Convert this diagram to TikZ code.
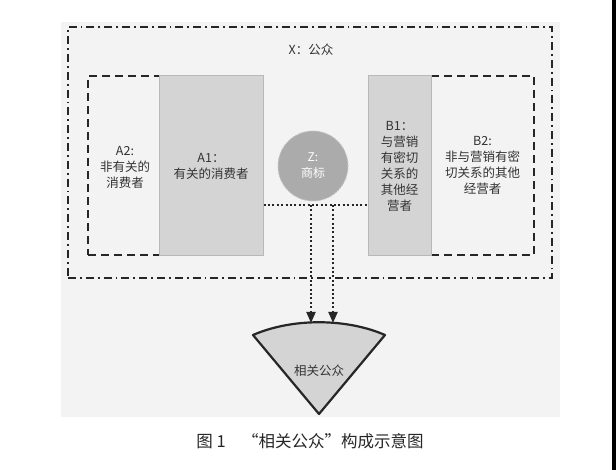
\documentclass[tikz,border=0pt]{standalone}
\usepackage{fontspec}
\setmainfont{Noto Sans CJK SC}
\usetikzlibrary{arrows.meta}
\definecolor{bgpanel}{HTML}{F3F3F4}
\definecolor{boxgray}{HTML}{D4D4D4}
\definecolor{edgegray}{HTML}{B8B8B8}
\definecolor{circgray}{HTML}{ABABAB}
\definecolor{inkdark}{HTML}{262626}
\definecolor{txtgray}{HTML}{333333}
\tikzset{
  dashbox/.style={draw=inkdark,line width=2.2pt,dash pattern=on 8pt off 5pt,minimum width=#1},
  dotdashbox/.style={draw=inkdark,line width=2.2pt,dash pattern=on 8pt off 4pt on 1.8pt off 4pt},
  graybox/.style={draw=edgegray,fill=boxgray,line width=1pt,inner sep=0pt},
  dotline/.style={draw=inkdark,line width=2pt,dash pattern=on 2pt off 2.4pt},
  lbl/.style={align=center,text=txtgray,font=\fontsize{12.5}{16}\selectfont}
}
\begin{document}
\begin{tikzpicture}[x=1pt,y=-1pt,>={Triangle[width=9pt,length=11pt]}]
\useasboundingbox (0,0) rectangle (616,470);
\fill[bgpanel] (61,22) rectangle (560,417);
\fill[black] (612,0) rectangle (616,470);
% outer box X
\node[dotdashbox,minimum width=484pt,minimum height=251pt] (X) at (310,152.5) {};
\node[lbl] (xlab) at (311,50) {X：公众};
% left group A2 / A1
\node[dashbox=175pt,minimum height=179pt] (A2) at (175.5,165.5) {};
\node[graybox,minimum width=104pt,minimum height=180pt,lbl] (A1) at (211,166) {A1：\\有关的消费者};
\node[lbl] (a2lab) at (125,167) {A2:\\非有关的\\消费者};
% right group B1 / B2
\node[dashbox=103pt,minimum height=179pt,lbl] (B2) at (482.5,165.5) {B2:\\非与营销有密\\切关系的其他\\经营者};
\node[graybox,minimum width=63pt,minimum height=180pt,lbl] (B1) at (399.5,166) {B1：\\与营销\\有密切\\关系的\\其他经\\营者};
% trademark
\node[circle,fill=circgray,draw=circgray!70!white,line width=1pt,dash pattern=on 1.5pt off 1.5pt,minimum size=70pt,align=center,text=white,font=\fontsize{12}{16}\selectfont] (Z) at (313,166) {Z:\\商标};
% relevant public
\coordinate (fanL) at (253,335);
\coordinate (fanR) at (385,335);
\coordinate (fanP) at (319,414);
\coordinate (fanT) at (319,323);
\draw[inkdark,fill=boxgray,line width=2.2pt,line join=round] (fanL) .. controls (292,318) and (346,318) .. (fanR) -- (fanP) -- cycle;
\node[lbl] (fan) at (319,371) {相关公众};
% links
\coordinate (j) at (313,205);
\coordinate (j1) at (311,205);
\coordinate (j2) at (333,205);
\draw[dotline] (A1.east |- j) -- (B1.west |- j);
\draw[dotline,->] (j1) -- (j1 |- fanT);
\draw[dotline,->] (j2) -- (j2 |- fanT);
\node[text=inkdark,font=\fontsize{16.5}{18}\selectfont] (cap) at (310,441) {图 1\quad “相关公众”构成示意图};
\end{tikzpicture}
\end{document}
